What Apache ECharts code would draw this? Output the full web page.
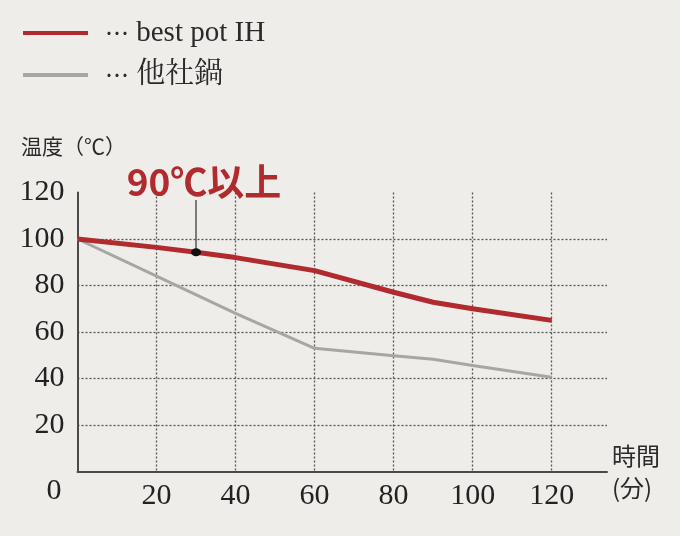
<!DOCTYPE html>
<html><head><meta charset="utf-8">
<script src="https://cdn.jsdelivr.net/npm/echarts@6/dist/echarts.min.js"></script>
<style>html,body{margin:0;padding:0;background:#eeede9}#c{width:680px;height:536px}</style>
</head><body><div id="c"></div>
<script>
var seriesNames = ['best pot IH', '他社鍋'];
var redX = [0, 20, 30, 40, 60, 80, 90, 100, 120];
var redY = [100, 96.4, 94.3, 92, 86.4, 77.1, 72.8, 70, 65];
var grayX = [0, 20, 40, 60, 80, 90, 100, 120];
var grayY = [100, 84, 68, 53, 49.8, 48.3, 45.6, 40.5];
var xTicks = [20, 40, 60, 80, 100, 120];
var yTicks = [0, 20, 40, 60, 80, 100, 120];
var annotText = '90℃以上';
var annotX = 30, annotY = 94.3, annotTop = 116.8;

function pairs(xs, ys){ return xs.map(function(x,i){ return [x, ys[i]]; }); }
var serif = "'Liberation Serif','Noto Serif CJK JP','Noto Sans CJK JP',serif";
var chart = echarts.init(document.getElementById('c'));
chart.setOption({
  backgroundColor: '#eeede9',
  animation: false,
  legend: {
    orient: 'vertical', left: 18, top: 13, itemGap: 12,
    itemWidth: 65, itemHeight: 4, icon: 'rect',
    data: [
      {name: seriesNames[0], itemStyle: {color: '#b02a2e'}},
      {name: seriesNames[1], itemStyle: {color: '#a6a6a4'}}
    ],
    formatter: function(n){ return '{d|⋯} ' + n; },
    textStyle: {fontFamily: serif, fontSize: 29, color: '#2a2a2a', padding: [0,0,0,12], lineHeight: 30,
      rich: {d: {fontFamily: "'Noto Sans CJK JP'", fontSize: 24, color: '#2a2a2a', lineHeight: 30}}}
  },
  grid: {left: 77.5, right: 73, top: 192.5, bottom: 64.5, containLabel: false},
  xAxis: {
    type: 'value', min: 0, max: 134, interval: 20,
    axisLine: {show: true, lineStyle: {color: '#4a4a4a', width: 2}},
    axisTick: {show: false},
    splitLine: {show: true, showMinLine: false, showMaxLine: false, lineStyle: {color: '#555', type: [2,2], width: 1.3}},
    axisLabel: {margin: 10, fontFamily: serif, fontSize: 30, color: '#222',
      formatter: function(v){ return xTicks.indexOf(v) >= 0 ? String(v) : ''; }},
    name: '時間\n(分)', nameLocation: 'end', nameGap: 5,
    nameTextStyle: {fontFamily: "'Noto Sans CJK JP'", fontSize: 24, lineHeight: 32, color: '#2a2a2a', align: 'left', verticalAlign: 'middle'}
  },
  yAxis: {
    type: 'value', min: 0, max: 120, interval: 20,
    axisLine: {show: true, lineStyle: {color: '#4a4a4a', width: 2}},
    axisTick: {show: false},
    splitLine: {show: true, showMinLine: false, showMaxLine: false, lineStyle: {color: '#555', type: [2,2], width: 1.3}},
    axisLabel: {margin: 13, fontFamily: serif, fontSize: 30, color: '#222',
      formatter: function(v){ if (yTicks.indexOf(v) < 0) return ''; return v === 0 ? '{z|0}' : String(v); },
      rich: {z: {fontFamily: serif, fontSize: 30, color: '#222', padding: [40,3,0,0]}}},
    name: '温度（℃）', nameLocation: 'end', nameGap: 36,
    nameTextStyle: {fontFamily: "'Noto Sans CJK JP'", fontSize: 21, color: '#2a2a2a', padding: [0,8,0,0]}
  },
  series: [
    {name: seriesNames[1], type: 'line', data: pairs(grayX, grayY), symbol: 'none',
     lineStyle: {color: '#a6a6a4', width: 3, join: 'round'}, itemStyle: {color: '#a6a6a4'}, z: 2},
    {name: seriesNames[0], type: 'line', data: pairs(redX, redY), symbol: 'none',
     lineStyle: {color: '#b02a2e', width: 5, join: 'round'}, itemStyle: {color: '#b02a2e'}, z: 3,
     markLine: {silent: true, symbol: 'none', animation: false,
       lineStyle: {color: '#555', width: 1.5, type: 'solid'},
       label: {show: true, position: 'end', distance: 0, formatter: annotText, padding: [0,0,0,16],
         fontFamily: "'Noto Sans CJK JP'", fontWeight: 'bold', fontSize: 37, color: '#b02a2e'},
       data: [[{coord: [annotX, annotY]}, {coord: [annotX, annotTop]}]]},
     markPoint: {silent: true, symbol: 'circle', symbolSize: [10, 8], itemStyle: {color: '#111'},
       label: {show: false}, data: [{coord: [annotX, annotY]}]}
    }
  ]
});
</script></body></html>
